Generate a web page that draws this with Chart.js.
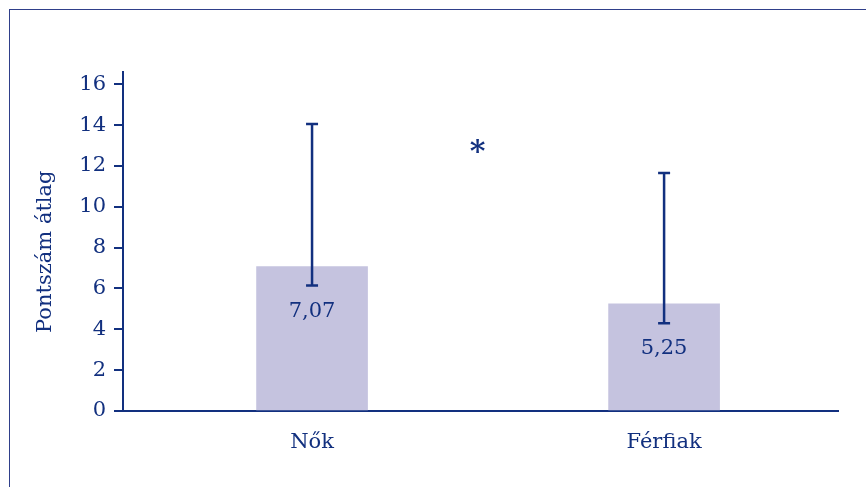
<!DOCTYPE html>
<html>
<head>
<meta charset="utf-8">
<script src="https://cdn.jsdelivr.net/npm/chart.js@4.4.0/dist/chart.umd.min.js"></script>
<style>
    html, body { margin: 0; padding: 0; background: #fff; }
    .wrap { position: relative; width: 866px; height: 487px; overflow: hidden; }
    .frame { position: absolute; left: 9px; top: 9px; width: 900px; height: 500px;
             border-left: 1px solid #2f3f8a; border-top: 1px solid #2f3f8a; pointer-events: none; }
    canvas { position: absolute; left: 0; top: 0; }
</style>
</head>
<body>
<div class="wrap">
    <canvas id="chart" width="866" height="487"></canvas>
    <div class="frame"></div>
</div>
<script>
// Data
const categories = ['Nők', 'Férfiak'];
const means = [7.07, 5.25];
const meanLabels = ['7,07', '5,25'];
const errHigh = [14.05, 11.65];
const errLow = [6.15, 4.3];
const yTicks = [0, 2, 4, 6, 8, 10, 12, 14, 16];
const yTitle = 'Pontszám átlag';
const starMark = { x: 0.47, y: 12.9, text: '*' };

const navy = '#12307f';
const barColor = '#c5c3df';
const font = 'DejaVu Serif';

// Error bars, value labels, y title and significance star
const extrasPlugin = {
    id: 'extras',
    afterDatasetsDraw(chart) {
        const ctx = chart.ctx;
        const xs = chart.scales.x, ys = chart.scales.y;
        ctx.save();
        ctx.strokeStyle = navy;
        ctx.lineWidth = 2.5;
        means.forEach((m, i) => {
            const px = xs.getPixelForValue(i);
            const top = ys.getPixelForValue(errHigh[i]);
            const bot = ys.getPixelForValue(errLow[i]);
            ctx.beginPath();
            ctx.moveTo(px, top); ctx.lineTo(px, bot);
            ctx.moveTo(px - 6, top); ctx.lineTo(px + 6, top);
            ctx.moveTo(px - 6, bot); ctx.lineTo(px + 6, bot);
            ctx.stroke();

            ctx.fillStyle = navy;
            ctx.font = '21px "' + font + '"';
            ctx.textAlign = 'center';
            ctx.textBaseline = 'middle';
            ctx.fillText(meanLabels[i], px, ys.getPixelForValue(m) + 45);
        });
        ctx.font = 'bold 30px "' + font + '"';
        ctx.fillText(starMark.text, xs.getPixelForValue(starMark.x), ys.getPixelForValue(starMark.y) + 6);

        // y axis title, a bit below the axis middle as in the original
        ctx.translate(46, ys.getPixelForValue(7.8));
        ctx.rotate(-Math.PI / 2);
        ctx.font = '21px "' + font + '"';
        ctx.fillText(yTitle, 0, 0);
        ctx.restore();
    }
};

new Chart(document.getElementById('chart').getContext('2d'), {
    type: 'bar',
    data: {
        datasets: [{
            data: means.map((v, i) => ({ x: i, y: v })),
            backgroundColor: barColor,
            borderWidth: 0,
            barThickness: 111
        }]
    },
    options: {
        responsive: false,
        animation: false,
        layout: { padding: { left: 0, top: 72, right: 28, bottom: 0 } },
        plugins: {
            legend: { display: false },
            tooltip: { enabled: false }
        },
        scales: {
            x: {
                type: 'linear',
                offset: false,
                min: -0.537,
                max: 1.494,
                afterBuildTicks: (scale) => { scale.ticks = categories.map((c, i) => ({ value: i })); },
                afterFit: (scale) => { scale.height = 76; },
                grid: { display: false },
                border: { display: true, color: navy, width: 2 },
                ticks: {
                    padding: 11,
                    color: navy,
                    font: { family: font, size: 21 },
                    callback: (v) => categories[v]
                }
            },
            y: {
                min: 0,
                max: 16.6,
                afterBuildTicks: (scale) => { scale.ticks = yTicks.map(v => ({ value: v })); },
                afterFit: (scale) => { scale.width = 123; },
                grid: { drawOnChartArea: false, drawTicks: true, tickLength: 9, color: navy, lineWidth: 2 },
                border: { display: true, color: navy, width: 2 },
                ticks: {
                    padding: 8,
                    color: navy,
                    font: { family: font, size: 21 }
                }
            }
        }
    },
    plugins: [extrasPlugin]
});
</script>
</body>
</html>
